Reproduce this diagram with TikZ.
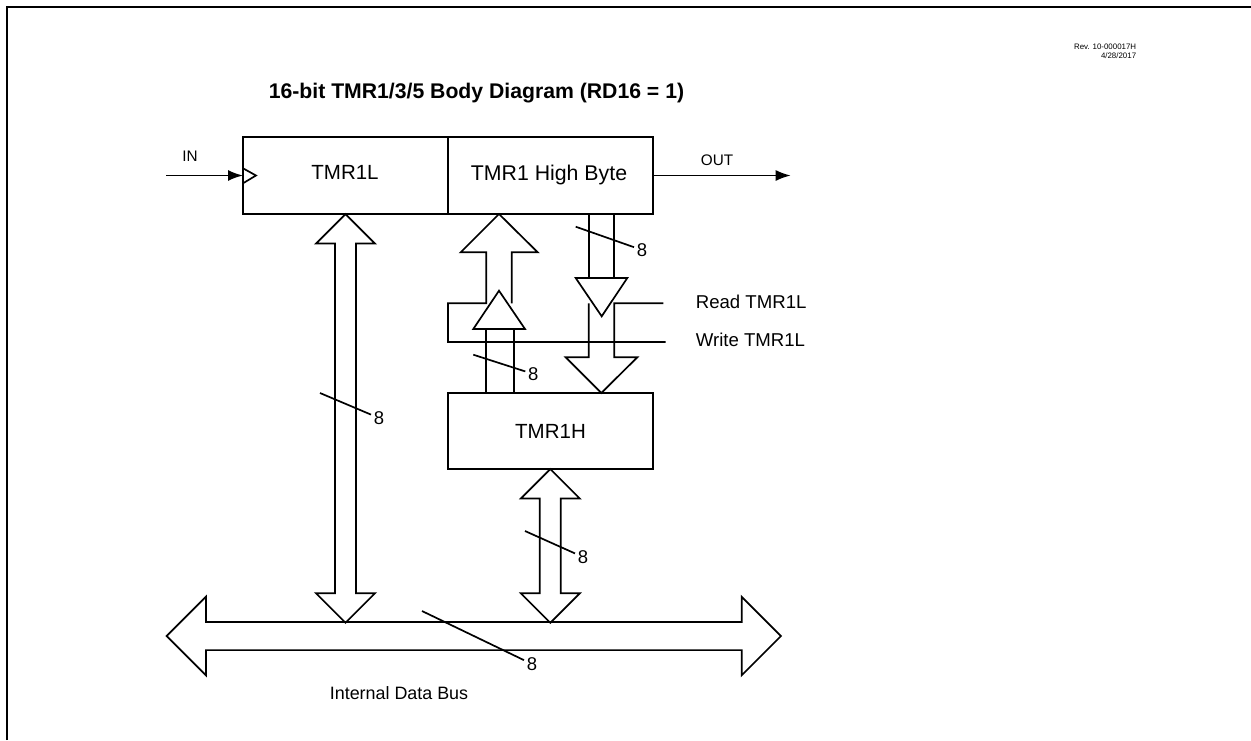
\documentclass[tikz,border=0pt]{standalone}
\usepackage{fontspec}
\setmainfont{Liberation Sans}
\usetikzlibrary{arrows.meta, positioning, shapes.arrows}

\begin{document}
\begin{tikzpicture}[
    x=1pt, y=-1pt,
    line width=1.7pt,
    font=\fontsize{20.5}{24}\selectfont,
    regbox/.style={draw, outer sep=0pt, inner sep=0pt, minimum width=205pt, minimum height=77pt},
    busarrow/.style={draw, double arrow, outer sep=0pt, inner sep=0pt, double arrow head extend=19pt},
    vbus/.style={busarrow, shape border rotate=90, inner xsep=9.65pt},
    wire/.style={draw, line join=miter},
    sigarrow/.style={-{Latex[length=15pt, width=11pt]}},
    buslabel/.style={font=\fontsize{18.5}{22}\selectfont, inner sep=2pt},
    signame/.style={font=\fontsize{18.6}{22}\selectfont, anchor=west, inner sep=0pt},
    pinname/.style={font=\fontsize{15.3}{18}\selectfont, inner sep=0pt}
]
\useasboundingbox (0,0) rectangle (1251,740);

% page frame
\coordinate (framebl) at (7,740);
\coordinate (frametl) at (7,6.5);
\coordinate (frametr) at (1251,6.5);
\draw[line width=2pt] (framebl) -- (frametl) -- (frametr);

% title and revision
\node[font=\bfseries\fontsize{21.2}{25}\selectfont] (title) at (476.5,93.5) {16-bit TMR1/3/5 Body Diagram (RD16 = 1)};
\node[font=\fontsize{7.9}{9}\selectfont, align=right, anchor=east, inner sep=0pt] (rev) at (1137,51.5) {Rev. 10-000017H\\4/28/2017};

% registers
\node[regbox] (tmrl) at (345.5,175.5) {};
\node[regbox, right=0pt of tmrl] (byte) {};
\node[regbox, below=179pt of byte, minimum height=76pt] (tmrh) {};
\node (tmrltext) at (345,172) {TMR1L};
\node[font=\fontsize{21.3}{25}\selectfont] (bytetext) at (549,175) {TMR1 High Byte};
\node at (tmrh.center) (tmrhtext) {TMR1H};

% buses
\node[busarrow, minimum height=614.3pt, inner ysep=13.25pt, double arrow head extend=25.2pt] (bus) at (473.8,636) {};
\node[vbus, minimum height=408.7pt] (lbus) at (345.5,418.4) {};
\node[vbus, minimum height=153.7pt] (hbus) at (550.3,545.9) {};

% write path
\coordinate (wrtip) at (499,214);
\coordinate (wrend) at (511.7,303.3);
\coordinate (wrleft) at (486.3,303.3);
\coordinate (wrstub) at (665.7,342);
\draw[wire] (wrend) -- (511.7,252.3) -- (537.7,252.3) -- (wrtip) -- (460.7,252.3) -- (486.3,252.3)
    -- (wrleft) -- (448,303.3) -- (448,342) -- (wrstub);
\node[signame] (wrlabel) at (695,340) {Write TMR1L};

% latch towards high byte
\coordinate (uptip) at (499,290.7);
\draw[wire] (473.3,329) -- (uptip) -- (525,329) -- cycle;
\draw[wire] (486.3,329) -- (486.3,393);
\draw[wire] (514.3,329) -- (514.3,393);

% read path
\draw[wire] (588.7,214) -- (588.7,278);
\draw[wire] (614.3,214) -- (614.3,278);
\coordinate (dntip) at (601.7,316.3);
\draw[wire] (575.7,278) -- (627.3,278) -- (dntip) -- cycle;
\coordinate (rdstub) at (663.3,303.3);
\draw[wire] (588.7,303.3) -- (588.7,357.3) -- (565.7,357.3) -- (601.3,393) -- (637.3,357.3) -- (614.3,357.3)
    -- (614.3,303.3) -- (rdstub);
\node[signame] (rdlabel) at (695,302) {Read TMR1L};

% clock pin and signals
\coordinate (instart) at (166,175.5);
\draw[sigarrow] (instart) -- (tmrl.west);
\draw[wire] (243,168.3) -- (256,175.5) -- (243,183.3);
\node[pinname] (inlabel) at (190,156) {IN};
\coordinate (outend) at (790.7,175.5);
\draw[sigarrow] (byte.east) -- (outend);
\node[pinname] (outlabel) at (717,160.5) {OUT};

% bus width marks
\node[buslabel] (w1) at (642,250) {8};
\coordinate (w1s) at (575.7,226.7);
\draw (w1s) -- (w1);
\node[buslabel] (w2) at (533.3,374) {8};
\coordinate (w2s) at (473.3,354.7);
\draw (w2s) -- (w2);
\node[buslabel] (w3) at (379,418) {8};
\coordinate (w3s) at (320,393);
\draw (w3s) -- (w3);
\node[buslabel] (w4) at (583,557) {8};
\coordinate (w4s) at (525,531);
\draw (w4s) -- (w4);
\node[buslabel] (w5) at (532,664) {8};
\coordinate (w5s) at (422,611);
\draw (w5s) -- (w5);

\node[font=\fontsize{17.9}{22}\selectfont] (buslabel) at (399,693) {Internal Data Bus};

\end{tikzpicture}
\end{document}
